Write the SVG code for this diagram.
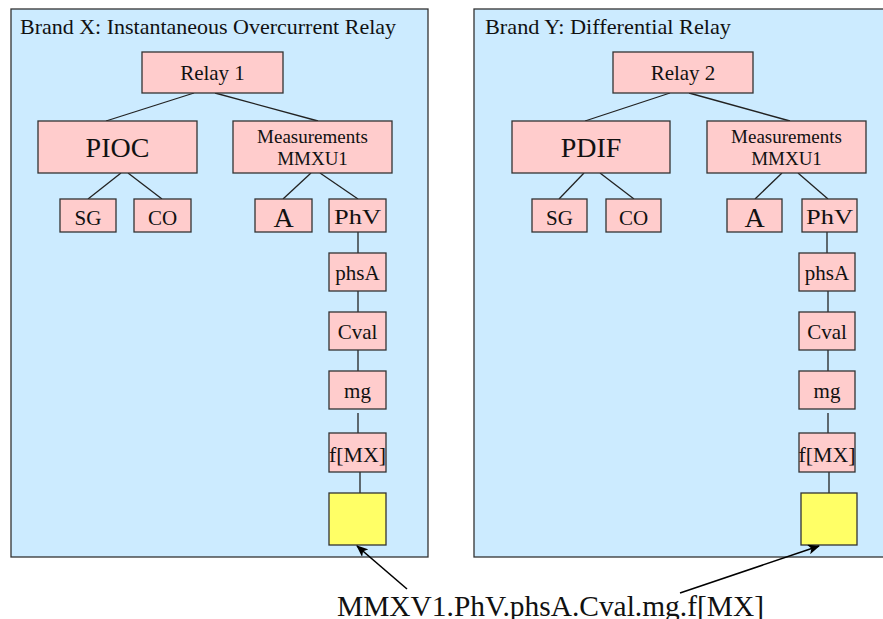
<svg xmlns="http://www.w3.org/2000/svg" width="883" height="619" viewBox="0 0 883 619">
<style>
text{font-family:"Liberation Serif","Times New Roman",serif;fill:#111;}
.panel{fill:#CCEBFF;stroke:#333;stroke-width:1.3;}
.box{fill:#FFCCCC;stroke:#333;stroke-width:1.3;}
.yel{fill:#FFFF66;stroke:#333;stroke-width:1.3;}
.c{text-anchor:middle;}
.s21{font-size:21px;}
.s28{font-size:28px;}
.s19{font-size:19px;}
.conn line{stroke:#222;stroke-width:1.3;}
.arr line{stroke:#000;stroke-width:1.6;}
</style>
<defs>
<marker id="ah" viewBox="0 0 12 10" refX="11" refY="5" markerWidth="12" markerHeight="10" markerUnits="userSpaceOnUse" orient="auto">
<path d="M0,0 L12,5 L0,10 L3,5 Z" fill="#000"/>
</marker>
</defs>
<rect width="883" height="619" fill="#fff"/>
<g id="panelX">
<rect class="panel" x="11" y="9" width="417" height="548"/>
<text x="20" y="34" font-size="21" textLength="376" lengthAdjust="spacingAndGlyphs">Brand X: Instantaneous Overcurrent Relay</text>
</g>
<g id="panelY">
<rect class="panel" x="474" y="9" width="420" height="548"/>
<text x="485" y="34" font-size="21" textLength="246" lengthAdjust="spacingAndGlyphs">Brand Y: Differential Relay</text>
</g>
<g class="conn" id="connectors">
<line x1="194" y1="93" x2="106" y2="121"/>
<line x1="215" y1="93" x2="318" y2="121"/>
<line x1="121" y1="173" x2="88" y2="199"/>
<line x1="128" y1="173" x2="162" y2="199"/>
<line x1="311" y1="173" x2="283" y2="199"/>
<line x1="320" y1="173" x2="358" y2="199"/>
<line x1="358" y1="232" x2="358" y2="253"/>
<line x1="358" y1="291" x2="358" y2="312"/>
<line x1="358" y1="350" x2="358" y2="371"/>
<line x1="358" y1="413" x2="358" y2="433"/>
<line x1="360" y1="472" x2="360" y2="493"/>
<line x1="670" y1="93" x2="585" y2="121"/>
<line x1="689" y1="93" x2="790" y2="121"/>
<line x1="584" y1="173" x2="559" y2="199"/>
<line x1="600" y1="173" x2="634" y2="199"/>
<line x1="782" y1="173" x2="755" y2="199"/>
<line x1="798" y1="173" x2="828" y2="199"/>
<line x1="827" y1="232" x2="827" y2="253"/>
<line x1="828" y1="291" x2="828" y2="312"/>
<line x1="828" y1="350" x2="828" y2="371"/>
<line x1="828" y1="413" x2="828" y2="433"/>
<line x1="829" y1="472" x2="829" y2="493"/>
</g>
<g id="relay1"><rect class="box" x="142" y="52" width="141" height="41"/><text class="c s21" x="212.5" y="80">Relay 1</text></g>
<g id="pioc"><rect class="box" x="38" y="121" width="159" height="52"/><text class="c s28" x="117.5" y="157">PIOC</text></g>
<g id="meas1"><rect class="box" x="233" y="121" width="159" height="52"/><text class="c s19" x="312.5" y="143">Measurements</text><text class="c s19" x="312.5" y="165">MMXU1</text></g>
<g id="sg1"><rect class="box" x="60" y="199" width="56" height="33"/><text class="c s21" x="88" y="225">SG</text></g>
<g id="co1"><rect class="box" x="134" y="199" width="57" height="33"/><text class="c s21" x="162.5" y="225">CO</text></g>
<g id="a1"><rect class="box" x="255" y="199" width="57" height="33"/><text class="c s28" x="283.5" y="227">A</text></g>
<g id="phv1"><rect class="box" x="329" y="199" width="57" height="33"/><text class="c s21" x="357.5" y="224" textLength="47" lengthAdjust="spacingAndGlyphs">PhV</text></g>
<g id="phsa1"><rect class="box" x="329" y="253" width="57" height="38"/><text class="c s21" x="357.5" y="280">phsA</text></g>
<g id="cval1"><rect class="box" x="329" y="312" width="57" height="38"/><text class="c s21" x="357.5" y="339">Cval</text></g>
<g id="mg1"><rect class="box" x="329" y="371" width="57" height="38"/><text class="c s21" x="357.5" y="398">mg</text></g>
<g id="fmx1"><rect class="box" x="329" y="433" width="57" height="39"/><text class="c s21" x="357.5" y="462" textLength="57" lengthAdjust="spacingAndGlyphs">f[MX]</text></g>
<g id="val1"><rect class="yel" x="329" y="493" width="57" height="52"/></g>
<g id="relay2"><rect class="box" x="613" y="52" width="140" height="41"/><text class="c s21" x="683" y="80">Relay 2</text></g>
<g id="pdif"><rect class="box" x="512" y="121" width="158" height="52"/><text class="c s28" x="591" y="157">PDIF</text></g>
<g id="meas2"><rect class="box" x="707" y="121" width="159" height="52"/><text class="c s19" x="786.5" y="143">Measurements</text><text class="c s19" x="786.5" y="165">MMXU1</text></g>
<g id="sg2"><rect class="box" x="532" y="199" width="55" height="33"/><text class="c s21" x="559.5" y="225">SG</text></g>
<g id="co2"><rect class="box" x="606" y="199" width="55" height="33"/><text class="c s21" x="633.5" y="225">CO</text></g>
<g id="a2"><rect class="box" x="727" y="199" width="55" height="33"/><text class="c s28" x="754.5" y="227">A</text></g>
<g id="phv2"><rect class="box" x="802" y="199" width="55" height="33"/><text class="c s21" x="829.5" y="224" textLength="47" lengthAdjust="spacingAndGlyphs">PhV</text></g>
<g id="phsa2"><rect class="box" x="799" y="253" width="56" height="38"/><text class="c s21" x="827" y="280">phsA</text></g>
<g id="cval2"><rect class="box" x="799" y="312" width="56" height="38"/><text class="c s21" x="827" y="339">Cval</text></g>
<g id="mg2"><rect class="box" x="799" y="371" width="56" height="38"/><text class="c s21" x="827" y="398">mg</text></g>
<g id="fmx2"><rect class="box" x="799" y="433" width="56" height="39"/><text class="c s21" x="827" y="462" textLength="57" lengthAdjust="spacingAndGlyphs">f[MX]</text></g>
<g id="val2"><rect class="yel" x="801" y="493" width="56" height="52"/></g>
<g class="arr" id="pointers">
<line x1="407" y1="589" x2="357" y2="546" marker-end="url(#ah)"/>
<line x1="680" y1="593" x2="819" y2="546" marker-end="url(#ah)"/>
</g>
<g id="label">
<text x="337" y="616" font-size="29" textLength="427" lengthAdjust="spacingAndGlyphs">MMXV1.PhV.phsA.Cval.mg.f[MX]</text>
</g>
</svg>
